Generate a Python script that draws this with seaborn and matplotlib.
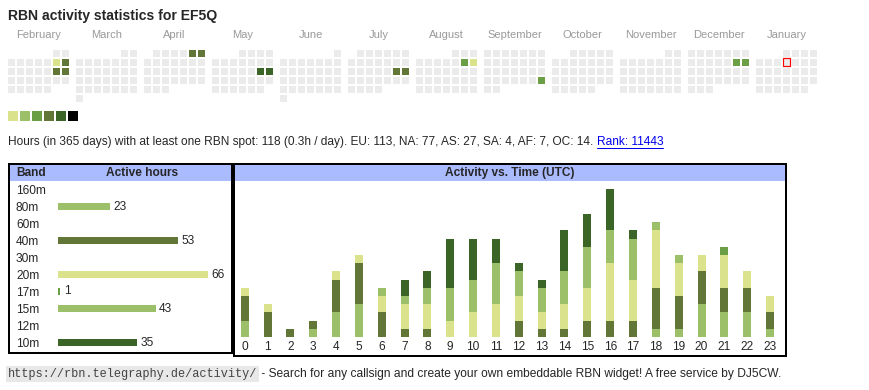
import calendar
import numpy as np
import pandas as pd
import matplotlib.pyplot as plt
import seaborn as sns
from matplotlib.colors import ListedColormap
from matplotlib.patches import Rectangle

# -------------------------------
# Data
# -------------------------------
callsign = "EF5Q"
months = [(2025, 2), (2025, 3), (2025, 4), (2025, 5), (2025, 6), (2025, 7),
          (2025, 8), (2025, 9), (2025, 10), (2025, 11), (2025, 12), (2026, 1)]
month_names = ["February", "March", "April", "May", "June", "July",
               "August", "September", "October", "November", "December", "January"]

# activity level per day (1..6), other days are 0
active_days = {
    "2025-02-08": 1, "2025-02-09": 4, "2025-02-15": 4, "2025-02-16": 4,
    "2025-04-05": 4, "2025-04-06": 4, "2025-05-17": 5, "2025-05-18": 5,
    "2025-07-19": 4, "2025-07-20": 4, "2025-08-09": 3, "2025-08-10": 1,
    "2025-09-28": 3, "2025-12-13": 3, "2025-12-14": 3,
}
today = "2026-01-08"

level_colors = ["#ebebeb", "#dbe28c", "#9cbf69", "#6a9f46", "#627637", "#3b6427", "#000000"]

bands = ["160m", "80m", "60m", "40m", "30m", "20m", "17m", "15m", "12m", "10m"]
band_hours = [0, 23, 0, 53, 0, 66, 1, 43, 0, 35]
band_colors = {"160m": "#ebebeb", "80m": "#9cbf69", "60m": "#ebebeb", "40m": "#627637",
               "30m": "#ebebeb", "20m": "#dbe28c", "17m": "#6a9f46", "15m": "#9cbf69",
               "12m": "#ebebeb", "10m": "#3b6427"}

hours = list(range(24))
hours_80m = [2, 0, 0, 1, 3, 4, 0, 0, 0, 0, 0, 0, 0, 0, 0, 0, 0, 0, 1, 1, 4, 3, 3, 1]
hours_40m = [3, 3, 1, 1, 4, 5, 3, 1, 1, 0, 0, 0, 2, 1, 1, 2, 2, 2, 5, 4, 4, 3, 3, 2]
hours_20m = [1, 1, 0, 0, 1, 1, 2, 3, 3, 2, 3, 4, 3, 2, 3, 4, 7, 5, 7, 4, 2, 4, 2, 2]
hours_17m = [0, 0, 0, 0, 0, 0, 0, 0, 0, 0, 0, 0, 0, 0, 0, 0, 0, 0, 0, 0, 0, 1, 0, 0]
hours_15m = [0, 0, 0, 0, 0, 0, 1, 1, 2, 4, 4, 5, 3, 3, 4, 5, 4, 5, 1, 1, 0, 0, 0, 0]
hours_10m = [0, 0, 0, 0, 0, 0, 0, 2, 2, 6, 5, 3, 1, 1, 5, 4, 5, 1, 0, 0, 0, 0, 0, 0]

info_text = ("Hours (in 365 days) with at least one RBN spot: 118 (0.3h / day). "
             "EU: 113, NA: 77, AS: 27, SA: 4, AF: 7, OC: 14.")
rank_text = "Rank: 11443"
url_text = "https://rbn.telegraphy.de/activity/"
footer_text = " - Search for any callsign and create your own embeddable RBN widget! A free service by DJ5CW."

# -------------------------------
# Figure setup (pixel layout helpers)
# -------------------------------
sns.set_style("white")
plt.rcParams["font.family"] = ["Liberation Sans", "DejaVu Sans"]

W, H = 870, 390
fig = plt.figure(figsize=(W / 100, H / 100), dpi=100)


def px_axes(x, y, w, h):
    ax = fig.add_axes([x / W, 1 - (y + h) / H, w / W, h / H])
    ax.patch.set_alpha(0)
    return ax


PX = 0.72  # points per pixel

bg = px_axes(0, 0, W, H)
bg.set_xlim(0, W)
bg.set_ylim(H, 0)
bg.axis("off")

bg.text(8, 16, f"RBN activity statistics for {callsign}", fontsize=10.05,
        fontweight="bold", va="center", ha="left")

# -------------------------------
# 1. Calendar
# -------------------------------
cmap = ListedColormap(level_colors)
for i, ((year, month), name) in enumerate(zip(months, month_names)):
    first_wd, ndays = calendar.monthrange(year, month)
    grid = np.full((6, 7), np.nan)
    for day in range(1, ndays + 1):
        pos = first_wd + day - 1
        key = f"{year}-{month:02d}-{day:02d}"
        grid[pos // 7, pos % 7] = active_days.get(key, 0)
    x0 = 8 + 68 * i
    ax = px_axes(x0 - 1, 48.5, 63, 54)
    sns.heatmap(grid, cmap=cmap, vmin=-0.5, vmax=6.5, cbar=False,
                linewidths=2 * PX, linecolor="white",
                xticklabels=False, yticklabels=False, ax=ax)
    ax.patch.set_alpha(0)
    if today.startswith(f"{year}-{month:02d}"):
        pos = first_wd + int(today[-2:]) - 1
        ax.add_patch(Rectangle((pos % 7 + 0.08, pos // 7 + 0.08), 0.84, 0.84,
                               fill=False, edgecolor="red", lw=1.2 * PX))
    bg.text(x0 + 30.5, 35, name, fontsize=8, color="#999999", ha="center", va="center")

# legend squares
lax = px_axes(7, 110, 72, 12)
sns.heatmap(np.array([[1, 2, 3, 4, 5, 6]]), cmap=cmap, vmin=-0.5, vmax=6.5, cbar=False,
            linewidths=2 * PX, linecolor="white", xticklabels=False, yticklabels=False, ax=lax)

# info line with rank link
t1 = bg.text(8, 142, info_text, fontsize=8.6, va="center", ha="left")
fig.canvas.draw()
bb = t1.get_window_extent()
x_end = bg.transData.inverted().transform((bb.x1, bb.y0))[0]
t2 = bg.text(x_end + 3.3, 142, rank_text, fontsize=8.6, va="center", ha="left", color="#0000ee")
fig.canvas.draw()
bb2 = t2.get_window_extent()
(rx0, _), (rx1, _) = bg.transData.inverted().transform([(bb2.x0, bb2.y0), (bb2.x1, bb2.y0)])
bg.plot([rx0, rx1], [147.5, 147.5], color="#0000ee", lw=1 * PX)

# -------------------------------
# 2. Panels (borders and headers)
# -------------------------------
bg.add_patch(Rectangle((10, 165), 221, 15.5, facecolor="#aabbff", edgecolor="none"))
bg.add_patch(Rectangle((235, 165), 550, 15.5, facecolor="#aabbff", edgecolor="none"))
bg.add_patch(Rectangle((9, 164), 223, 188.5, fill=False, edgecolor="black", lw=2 * PX))
bg.add_patch(Rectangle((234, 164), 552, 191.5, fill=False, edgecolor="black", lw=2 * PX))
bg.text(16, 173, "Band", fontsize=8.6, fontweight="bold", va="center", ha="left")
bg.text(142, 173, "Active hours", fontsize=8.6, fontweight="bold", va="center", ha="center")
bg.text(510, 173, "Activity vs. Time (UTC)", fontsize=8.6, fontweight="bold",
        va="center", ha="center")

# -------------------------------
# 3. Active hours per band
# -------------------------------
band_df = pd.DataFrame({"band": bands, "hours": band_hours})
bax = px_axes(58, 181, 170, 170)
sns.barplot(data=band_df, x="hours", y="band", hue="band", palette=band_colors,
            order=bands, hue_order=bands, orient="h", width=0.44, legend=False,
            saturation=1, linewidth=0, ax=bax)
bax.set_xlim(0, 170 / 2.27)
bax.set_ylim(9.5, -0.5)
for c in bax.containers:
    bax.bar_label(c, labels=[f"{int(v)}" if v > 0 else "" for v in c.datavalues],
                  padding=2.4, fontsize=8.6)
bax.tick_params(axis="y", length=0, pad=42 * PX, labelsize=8.6)
for lab in bax.get_yticklabels():
    lab.set_horizontalalignment("left")
bax.set_xticks([])
bax.set_xlabel("")
bax.set_ylabel("")
sns.despine(ax=bax, left=True, bottom=True)

# -------------------------------
# 4. Activity vs. time (stacked)
# -------------------------------
hour_series = {"80m": hours_80m, "40m": hours_40m, "20m": hours_20m,
               "17m": hours_17m, "15m": hours_15m, "10m": hours_10m}
hour_df = pd.concat([pd.DataFrame({"hour": hours, "band": b, "count": v})
                     for b, v in hour_series.items()], ignore_index=True)
hax = px_axes(235, 181, 549, 156)
sns.histplot(data=hour_df, x="hour", weights="count", hue="band",
             hue_order=["10m", "15m", "17m", "20m", "40m", "80m"],
             palette=band_colors, multiple="stack", discrete=True, shrink=0.35,
             edgecolor="none", linewidth=0, alpha=1, legend=False, ax=hax)
hax.set_xlim(-0.425, 23.61)
hax.set_ylim(0, 156 / 8.2)
hax.set_xticks(hours)
hax.set_xticklabels([str(h) for h in hours])
hax.tick_params(axis="x", length=0, pad=4 * PX, labelsize=8.6)
hax.set_yticks([])
hax.set_xlabel("")
hax.set_ylabel("")
sns.despine(ax=hax, left=True, bottom=True)

# -------------------------------
# 5. Footer
# -------------------------------
t3 = bg.text(8, 374, url_text, fontsize=8.6, family="Liberation Mono", color="#444444",
             va="center", ha="left",
             bbox=dict(facecolor="#e8e8e8", edgecolor="none", pad=1.2))
fig.canvas.draw()
bb3 = t3.get_window_extent()
fx = bg.transData.inverted().transform((bb3.x1, bb3.y0))[0]
bg.text(fx + 1, 374, footer_text, fontsize=8.68, va="center", ha="left")

fig.savefig("out.png", dpi=100)
